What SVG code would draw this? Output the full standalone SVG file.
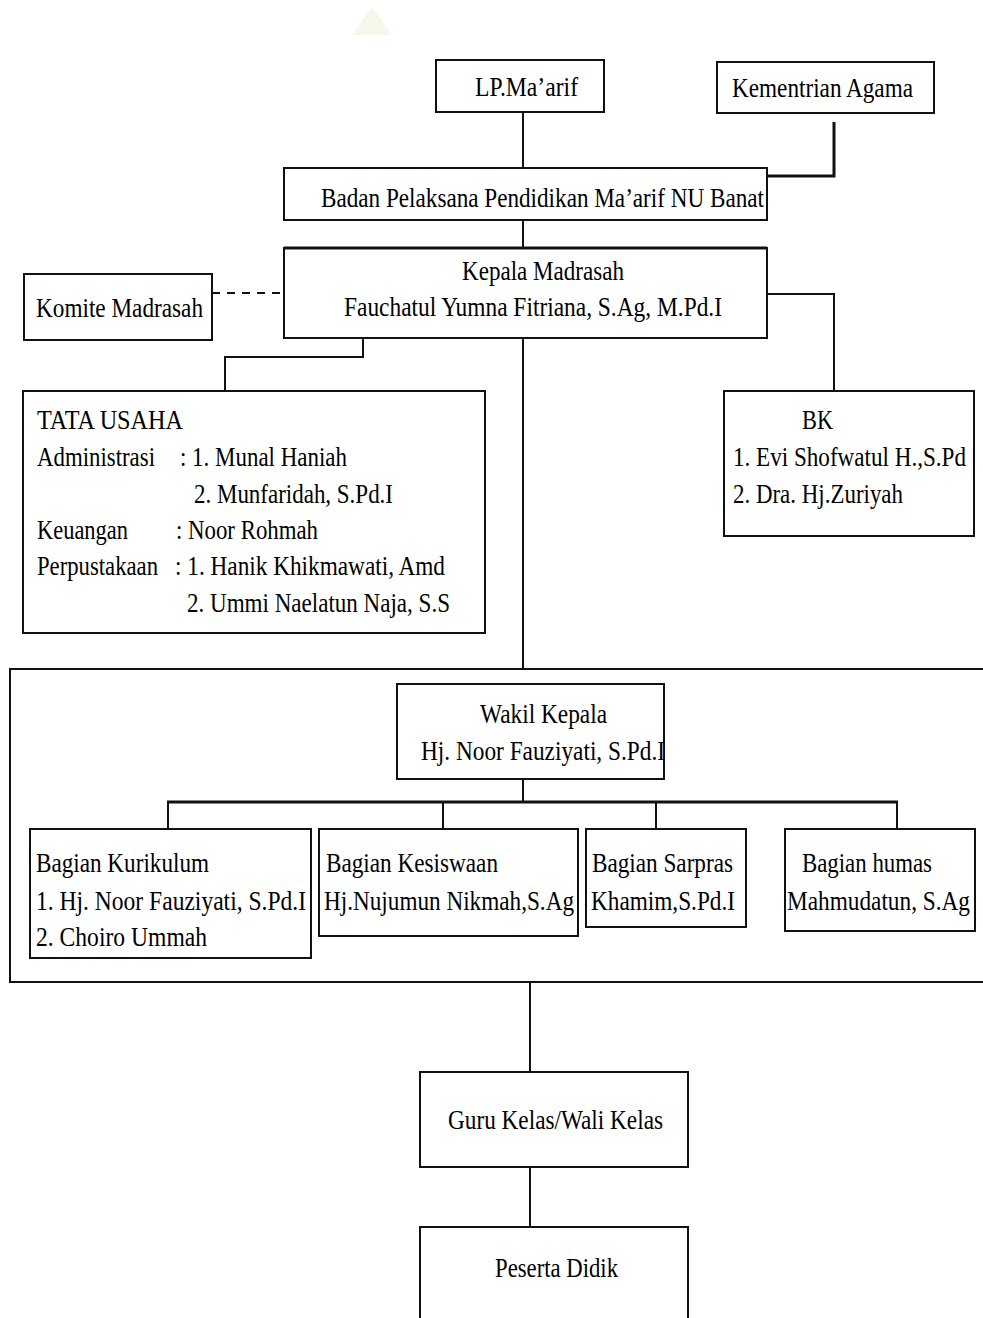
<svg xmlns="http://www.w3.org/2000/svg" width="983" height="1318" viewBox="0 0 983 1318">
<style>
.box{fill:#fff;stroke:#111;stroke-width:2}
.frame{fill:none;stroke:#111;stroke-width:2}
.ln{fill:none;stroke:#111;stroke-width:2}
.t{font-family:"Liberation Serif","Times New Roman",serif;font-size:28px;fill:#000}
</style>
<rect x="0" y="0" width="983" height="1318" fill="#fff"/>
<polygon points="352,35 372,7 392,35" fill="#eef1dc" opacity="0.6"/>
<g id="wakil-group">
<rect class="frame" x="10" y="669" width="985" height="313"/>
</g>
<g id="connectors">
<line class="ln" x1="523" y1="112" x2="523" y2="168"/>
<polyline class="ln" points="834,122 834,176 767,176" style="stroke-width:3"/>
<line class="ln" x1="523" y1="220" x2="523" y2="248"/>
<line class="ln" x1="212" y1="293" x2="284" y2="293" stroke-dasharray="8,7"/>
<polyline class="ln" points="767,294 834,294 834,391"/>
<polyline class="ln" points="363,338 363,357 225,357 225,391"/>
<line class="ln" x1="523" y1="338" x2="523" y2="669"/>
<line class="ln" x1="523" y1="779" x2="523" y2="802"/>
<line class="ln" x1="167" y1="802" x2="898" y2="802" style="stroke-width:3"/>
<line class="ln" x1="168" y1="802" x2="168" y2="829"/>
<line class="ln" x1="443" y1="802" x2="443" y2="829"/>
<line class="ln" x1="656" y1="802" x2="656" y2="829"/>
<line class="ln" x1="897" y1="802" x2="897" y2="829"/>
<line class="ln" x1="530" y1="982" x2="530" y2="1072"/>
<line class="ln" x1="530" y1="1167" x2="530" y2="1227"/>
</g>
<g id="lp-maarif">
<rect class="box" x="436" y="60" width="168" height="52"/>
<text class="t" x="475" y="96" textLength="103" lengthAdjust="spacingAndGlyphs">LP.Ma’arif</text>
</g>
<g id="kementrian-agama">
<rect class="box" x="717" y="62" width="217" height="51"/>
<text class="t" x="732" y="97" textLength="181" lengthAdjust="spacingAndGlyphs">Kementrian Agama</text>
</g>
<g id="badan-pelaksana">
<rect class="box" x="284" y="168" width="483" height="52"/>
<text class="t" x="321" y="207" textLength="443" lengthAdjust="spacingAndGlyphs">Badan Pelaksana Pendidikan Ma’arif NU Banat</text>
</g>
<g id="kepala-madrasah">
<rect class="box" x="284" y="248" width="483" height="90"/>
<line class="ln" x1="284" y1="248" x2="767" y2="248" style="stroke-width:3"/>
<text class="t" x="462" y="280" textLength="162" lengthAdjust="spacingAndGlyphs">Kepala Madrasah</text>
<text class="t" x="344" y="316" textLength="378" lengthAdjust="spacingAndGlyphs">Fauchatul Yumna Fitriana, S.Ag, M.Pd.I</text>
</g>
<g id="komite-madrasah">
<rect class="box" x="24" y="274" width="188" height="66"/>
<text class="t" x="36" y="317" textLength="167" lengthAdjust="spacingAndGlyphs">Komite Madrasah</text>
</g>
<g id="tata-usaha">
<rect class="box" x="23" y="391" width="462" height="242"/>
<text class="t" x="37" y="429" textLength="146" lengthAdjust="spacingAndGlyphs">TATA USAHA</text>
<text class="t" x="37" y="466" textLength="118" lengthAdjust="spacingAndGlyphs">Administrasi</text>
<text class="t" x="180" y="466" textLength="167" lengthAdjust="spacingAndGlyphs">: 1. Munal Haniah</text>
<text class="t" x="194" y="503" textLength="199" lengthAdjust="spacingAndGlyphs">2. Munfaridah, S.Pd.I</text>
<text class="t" x="37" y="539" textLength="91" lengthAdjust="spacingAndGlyphs">Keuangan</text>
<text class="t" x="176" y="539" textLength="142" lengthAdjust="spacingAndGlyphs">: Noor Rohmah</text>
<text class="t" x="37" y="575" textLength="121" lengthAdjust="spacingAndGlyphs">Perpustakaan</text>
<text class="t" x="175" y="575" textLength="270" lengthAdjust="spacingAndGlyphs">: 1. Hanik Khikmawati, Amd</text>
<text class="t" x="187" y="612" textLength="263" lengthAdjust="spacingAndGlyphs">2. Ummi Naelatun Naja, S.S</text>
</g>
<g id="bk">
<rect class="box" x="724" y="391" width="250" height="145"/>
<text class="t" x="802" y="429" textLength="31" lengthAdjust="spacingAndGlyphs">BK</text>
<text class="t" x="733" y="466" textLength="233" lengthAdjust="spacingAndGlyphs">1. Evi Shofwatul H.,S.Pd</text>
<text class="t" x="733" y="503" textLength="170" lengthAdjust="spacingAndGlyphs">2. Dra. Hj.Zuriyah</text>
</g>
<g id="wakil-kepala">
<rect class="box" x="397" y="684" width="267" height="95"/>
<text class="t" x="480" y="723" textLength="127" lengthAdjust="spacingAndGlyphs">Wakil Kepala</text>
<text class="t" x="421" y="760" textLength="244" lengthAdjust="spacingAndGlyphs">Hj. Noor Fauziyati, S.Pd.I</text>
</g>
<g id="bagian-kurikulum">
<rect class="box" x="30" y="829" width="281" height="129"/>
<text class="t" x="36" y="872" textLength="173" lengthAdjust="spacingAndGlyphs">Bagian Kurikulum</text>
<text class="t" x="36" y="910" textLength="270" lengthAdjust="spacingAndGlyphs">1.  Hj. Noor Fauziyati, S.Pd.I</text>
<text class="t" x="36" y="946" textLength="171" lengthAdjust="spacingAndGlyphs">2.  Choiro Ummah</text>
</g>
<g id="bagian-kesiswaan">
<rect class="box" x="319" y="829" width="259" height="107"/>
<text class="t" x="326" y="872" textLength="172" lengthAdjust="spacingAndGlyphs">Bagian Kesiswaan</text>
<text class="t" x="324" y="910" textLength="250" lengthAdjust="spacingAndGlyphs">Hj.Nujumun Nikmah,S.Ag</text>
</g>
<g id="bagian-sarpras">
<rect class="box" x="586" y="829" width="160" height="98"/>
<text class="t" x="592" y="872" textLength="141" lengthAdjust="spacingAndGlyphs">Bagian Sarpras</text>
<text class="t" x="591" y="910" textLength="144" lengthAdjust="spacingAndGlyphs">Khamim,S.Pd.I</text>
</g>
<g id="bagian-humas">
<rect class="box" x="785" y="829" width="190" height="102"/>
<text class="t" x="802" y="872" textLength="130" lengthAdjust="spacingAndGlyphs">Bagian humas</text>
<text class="t" x="787" y="910" textLength="183" lengthAdjust="spacingAndGlyphs">Mahmudatun, S.Ag</text>
</g>
<g id="guru-kelas">
<rect class="box" x="420" y="1072" width="268" height="95"/>
<text class="t" x="448" y="1129" textLength="215" lengthAdjust="spacingAndGlyphs">Guru Kelas/Wali Kelas</text>
</g>
<g id="peserta-didik">
<rect class="box" x="420" y="1227" width="268" height="100"/>
<text class="t" x="495" y="1277" textLength="123" lengthAdjust="spacingAndGlyphs">Peserta Didik</text>
</g>
</svg>
